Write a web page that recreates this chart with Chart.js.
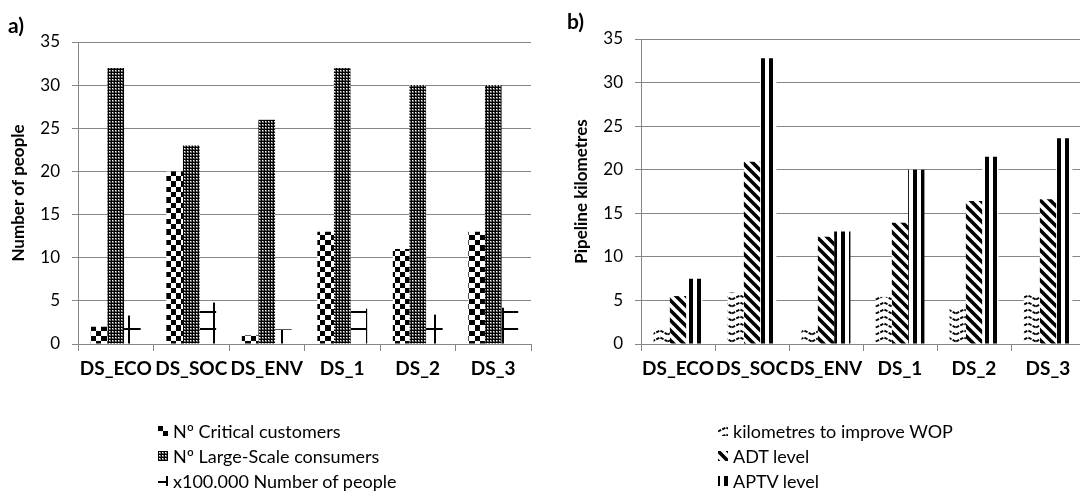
<!DOCTYPE html>
<html>
<head>
<meta charset="utf-8">
<script src="https://cdn.jsdelivr.net/npm/chart.js@4.4.1/dist/chart.umd.min.js"></script>
<style>
  html, body { margin: 0; padding: 0; background: #fff; }
  body { width: 1080px; height: 500px; overflow: hidden; position: relative; font-family: Lato, sans-serif; }
  canvas.chart { position: absolute; top: 0; }
  #chartA { left: 0; }
  #chartB { left: 540px; }
  .legend { position: absolute; margin: 0; padding: 0; list-style: none; font-size: 18px; color: #000; }
  .legend li { display: flex; align-items: center; height: 25px; white-space: nowrap; }
  .legend canvas { width: 10px; height: 10px; margin-right: 5px; }
  #legendA { left: 158px; top: 418px; }
  #legendB { left: 718px; top: 418px; }
</style>
</head>
<body>
<canvas class="chart" id="chartA" width="540" height="400"></canvas>
<canvas class="chart" id="chartB" width="560" height="400"></canvas>
<ul class="legend" id="legendA"></ul>
<ul class="legend" id="legendB"></ul>
<script>
// ---- data -------------------------------------------------------------
const scenarios = ['DS_ECO', 'DS_SOC', 'DS_ENV', 'DS_1', 'DS_2', 'DS_3'];
const yTicksA = [0, 5, 10, 15, 20, 25, 30, 35];
const yTicksB = [0, 5, 10, 15, 20, 25, 30, 35];

// panel a) — people affected
const criticalCustomers = [2, 20, 1, 13, 11, 13];
const largeScaleConsumers = [32, 23, 26, 32, 30, 30];
const peopleHundredThousands = [3.3, 4.8, 1.7, 4.1, 3.4, 4.2];

// panel b) — pipeline lengths
const kmImproveWOP = [1.6, 5.9, 1.6, 5.4, 4.1, 5.6];
const adtLevel = [5.5, 20.9, 12.3, 13.9, 16.4, 16.6];
const aptvLevel = [7.5, 32.8, 12.9, 20.0, 21.5, 23.6];

const labelsA = ['Nº Critical customers', 'Nº Large-Scale consumers', 'x100.000 Number of people'];
const labelsB = ['kilometres to improve WOP', 'ADT level', 'APTV level'];

// ---- hatch patterns ---------------------------------------------------
function makeTile(w, h, draw) {
  const c = document.createElement('canvas');
  c.width = w; c.height = h;
  const g = c.getContext('2d');
  g.fillStyle = '#fff';
  g.fillRect(0, 0, w, h);
  g.fillStyle = '#000';
  g.strokeStyle = '#000';
  draw(g, w, h);
  return c;
}

const tiles = {
  // large checkerboard
  checker: makeTile(32, 32, (g) => {
    const e = [0, 5, 11, 16, 21, 27, 32];
    for (let i = 0; i < 6; i++) for (let j = 0; j < 6; j++) {
      if ((i + j) % 2 === 0) g.fillRect(e[i], e[j], e[i + 1] - e[i], e[j + 1] - e[j]);
    }
  }),
  // dense dotted grid: small light dots on black
  dotgrid: makeTile(3, 3, (g) => {
    g.fillRect(0, 0, 3, 3);
    g.fillStyle = '#6e6e6e';
    g.fillRect(1, 1, 2, 2);
    g.fillStyle = '#fff';
    g.fillRect(1, 1, 1, 1);
  }),
  // large open grid
  biggrid: makeTile(17, 17, (g) => {
    g.fillRect(9, 0, 2, 17);
    g.fillRect(0, 5, 17, 2);
  }),
  // dashed zig-zag
  zigzag: makeTile(16, 7, (g) => {
    g.lineWidth = 1.9;
    g.setLineDash([3.5, 1.2]);
    g.beginPath();
    g.moveTo(0, 5.5); g.lineTo(8, 1.5); g.lineTo(16, 5.5);
    g.stroke();
  }),
  // wide downward diagonal
  diagonal: makeTile(10, 10, (g) => {
    g.lineWidth = 3.6;
    g.beginPath();
    for (const c of [-10, 0, 10]) { g.moveTo(c - 2, -2); g.lineTo(c + 12, 12); }
    g.stroke();
  }),
  // wide vertical stripes
  vertical: makeTile(8, 4, (g) => {
    g.fillRect(5, 0, 3, 4);
    g.fillRect(0, 0, 1, 4);
  })
};

function pat(ctx, name) { return ctx.createPattern(tiles[name], 'repeat'); }

// ---- small plugin: panel letter in the corner --------------------------
const panelLetter = {
  id: 'panelLetter',
  afterDraw(chart, args, opts) {
    const c = chart.ctx;
    c.save();
    c.font = 'bold 21px Lato';
    c.fillStyle = '#000';
    c.textBaseline = 'alphabetic';
    c.fillText(opts.text, opts.x, opts.y);
    c.restore();
  }
};

Chart.defaults.font.family = 'Lato';
Chart.defaults.color = '#000';

function buildChart(id, cfg) {
  const canvas = document.getElementById(id);
  const ctx = canvas.getContext('2d');
  const datasets = cfg.series.map((s) => ({
    label: s.label,
    data: s.data,
    backgroundColor: pat(ctx, s.pattern),
    borderWidth: 0,
    categoryPercentage: 0.66,
    barPercentage: 1.0
  }));
  return new Chart(ctx, {
    type: 'bar',
    data: { labels: scenarios, datasets },
    plugins: [panelLetter],
    options: {
      responsive: false,
      animation: false,
      events: [],
      layout: { padding: cfg.padding },
      plugins: {
        legend: { display: false },
        tooltip: { enabled: false },
        panelLetter: cfg.letter
      },
      scales: {
        x: {
          grid: { offset: true, drawOnChartArea: false, drawTicks: true, tickLength: 7, color: '#868686' },
          border: { color: '#868686' },
          ticks: { font: { weight: 'bold', size: 19 }, color: '#000', padding: 6, maxRotation: 0, autoSkip: false },
          afterFit(s) { s.height = cfg.xHeight; }
        },
        y: {
          min: cfg.yTicks[0],
          max: cfg.yTicks[cfg.yTicks.length - 1],
          afterBuildTicks(s) { s.ticks = cfg.yTicks.map((v) => ({ value: v })); },
          ticks: { font: { size: 17 }, color: '#000', padding: 12 },
          grid: { color: '#868686', tickLength: 6 },
          border: { color: '#868686' },
          title: { display: true, text: cfg.yTitle, font: { weight: 'bold', size: 17 }, color: '#000', padding: { top: cfg.titlePad, bottom: 0 } },
          afterFit(s) { s.width = cfg.yWidth; }
        }
      }
    }
  });
}

function buildLegend(listId, chart, phases) {
  const ul = document.getElementById(listId);
  chart.data.datasets.forEach((ds, i) => {
    const li = document.createElement('li');
    const sw = document.createElement('canvas');
    sw.width = 10; sw.height = 10;
    const g = sw.getContext('2d');
    g.translate(phases[i][0], phases[i][1]);
    g.fillStyle = g.createPattern(tiles[chart.$patterns[i]], 'repeat');
    g.fillRect(-phases[i][0], -phases[i][1], 10, 10);
    const span = document.createElement('span');
    span.textContent = ds.label;
    li.appendChild(sw);
    li.appendChild(span);
    ul.appendChild(li);
  });
}

const seriesA = [
  { label: labelsA[0], data: criticalCustomers, pattern: 'checker' },
  { label: labelsA[1], data: largeScaleConsumers, pattern: 'dotgrid' },
  { label: labelsA[2], data: peopleHundredThousands, pattern: 'biggrid' }
];
const seriesB = [
  { label: labelsB[0], data: kmImproveWOP, pattern: 'zigzag' },
  { label: labelsB[1], data: adtLevel, pattern: 'diagonal' },
  { label: labelsB[2], data: aptvLevel, pattern: 'vertical' }
];

const chartA = buildChart('chartA', {
  series: seriesA,
  yTicks: yTicksA,
  yTitle: 'Number of people',
  padding: { left: 0, top: 42, right: 9, bottom: 0 },
  yWidth: 78,
  xHeight: 56,
  titlePad: 8,
  letter: { text: 'a)', x: 8, y: 33 }
});
chartA.$patterns = seriesA.map((s) => s.pattern);

const chartB = buildChart('chartB', {
  series: seriesB,
  yTicks: yTicksB,
  yTitle: 'Pipeline kilometres',
  padding: { left: 0, top: 39, right: 15, bottom: 0 },
  yWidth: 101,
  xHeight: 56,
  titlePad: 31,
  letter: { text: 'b)', x: 27, y: 29 }
});
chartB.$patterns = seriesB.map((s) => s.pattern);

buildLegend('legendA', chartA, [[0, 0], [0, 0], [-1, 0]]);
buildLegend('legendB', chartB, [[0, 0], [0, 0], [1, 0]]);
</script>
</body>
</html>
